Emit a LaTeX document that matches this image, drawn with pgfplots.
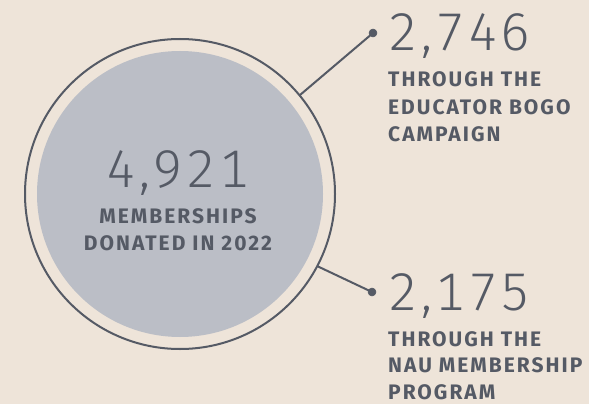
\documentclass[border=0pt]{standalone}
\usepackage{fontspec}
\setmainfont{Fira Sans}
\newfontfamily\numfont[UprightFont=* Light, Numbers={Monospaced,Lining}, LetterSpace=6]{Fira Sans}
\newfontfamily\lblfont[UprightFont=* Bold, LetterSpace=9.5]{Fira Sans}
\usepackage{pgfplots}
\pgfplotsset{compat=1.18}

\definecolor{bg}{HTML}{EEE4D9}
\definecolor{ink}{HTML}{555A65}
\definecolor{disc}{HTML}{BBBEC6}

\begin{document}
\begin{tikzpicture}
\begin{axis}[
    x=1pt, y=1pt,
    xmin=0, xmax=589, ymin=0, ymax=404,
    y dir=reverse,
    hide axis,
    clip=false,
    scale only axis,
]
% background and the circle
\fill[bg] (axis cs:0,0) rectangle (axis cs:589,404);
\fill[disc] (axis cs:180,194) circle[radius=143];
\draw[ink, line width=2pt] (axis cs:180,194) circle[radius=155];

% connectors
\addplot[draw=ink, line width=2pt, mark=*, mark size=4pt, mark indices={2},
    mark options={fill=ink, draw=ink, line width=0.5pt}]
    coordinates {(300,95) (373,33)};
\addplot[draw=ink, line width=2pt, mark=*, mark size=4pt, mark indices={2},
    mark options={fill=ink, draw=ink, line width=0.5pt}]
    coordinates {(317,266) (372,292)};

% total
\node[anchor=base, text=ink, font=\numfont\fontsize{53}{53}\selectfont, inner sep=0pt]
    at (axis cs:178,187) {4,921};
\node[anchor=base, text=ink, font=\lblfont\fontsize{21}{21}\selectfont, inner sep=0pt]
    at (axis cs:178,223) {MEMBERSHIPS};
\node[anchor=base, text=ink, font=\lblfont\fontsize{21}{21}\selectfont, inner sep=0pt]
    at (axis cs:178,250) {DONATED IN 2022};

% educator bogo
\node[anchor=base west, text=ink, font=\numfont\fontsize{53}{53}\selectfont, inner sep=0pt]
    at (axis cs:388,51) {2,746};
\node[anchor=base west, text=ink, font=\lblfont\fontsize{21}{21}\selectfont, inner sep=0pt]
    at (axis cs:388,87) {THROUGH THE};
\node[anchor=base west, text=ink, font=\lblfont\fontsize{21}{21}\selectfont, inner sep=0pt]
    at (axis cs:388,114) {EDUCATOR BOGO};
\node[anchor=base west, text=ink, font=\lblfont\fontsize{21}{21}\selectfont, inner sep=0pt]
    at (axis cs:388,141) {CAMPAIGN};

% nau membership
\node[anchor=base west, text=ink, font=\numfont\fontsize{53}{53}\selectfont, inner sep=0pt]
    at (axis cs:388,310) {2,175};
\node[anchor=base west, text=ink, font=\lblfont\fontsize{21}{21}\selectfont, inner sep=0pt]
    at (axis cs:388,346) {THROUGH THE};
\node[anchor=base west, text=ink, font=\lblfont\fontsize{21}{21}\selectfont, inner sep=0pt]
    at (axis cs:388,372.5) {NAU MEMBERSHIP};
\node[anchor=base west, text=ink, font=\lblfont\fontsize{21}{21}\selectfont, inner sep=0pt]
    at (axis cs:388,399) {PROGRAM};
\end{axis}
\end{tikzpicture}
\end{document}
